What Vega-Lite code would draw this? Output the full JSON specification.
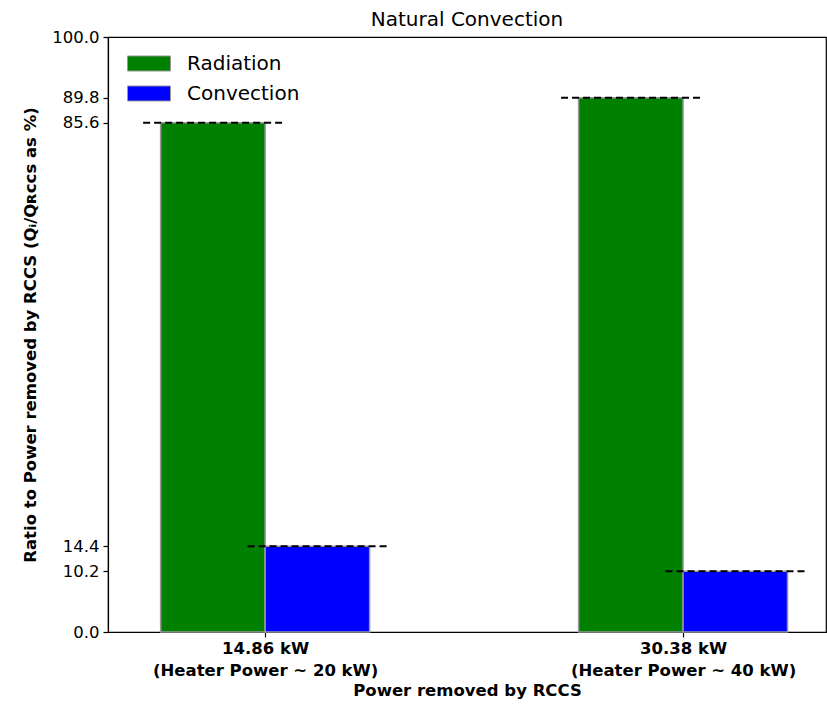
{
  "$schema": "https://vega.github.io/schema/vega-lite/v6.json",
  "width": 718,
  "height": 595,
  "autosize": {"type": "none"},
  "padding": {"left": 108, "top": 37, "right": 1, "bottom": 74},
  "config": {
    "font": "DejaVu Sans",
    "view": {"stroke": "black", "strokeWidth": 1.2},
    "axis": {"grid": false, "domainColor": "black", "tickColor": "black", "labelColor": "black", "titleColor": "black", "domainWidth": 1.2, "tickWidth": 1.2}
  },
  "title": {"text": "Natural Convection", "fontSize": 20, "fontWeight": "normal", "offset": 10, "dy": 11, "font": "DejaVu Sans", "color": "black"},
  "data": {
    "values": [
      {"group": 0, "series": "Radiation", "value": 85.6},
      {"group": 0, "series": "Convection", "value": 14.4},
      {"group": 1, "series": "Radiation", "value": 89.8},
      {"group": 1, "series": "Convection", "value": 10.2}
    ]
  },
  "transform": [
    {"calculate": "datum.group + (datum.series == 'Radiation' ? -0.125 : 0.125)", "as": "center"},
    {"calculate": "datum.center - 0.125", "as": "x0"},
    {"calculate": "datum.center + 0.125", "as": "x1"},
    {"calculate": "datum.center - 0.167", "as": "l0"},
    {"calculate": "datum.center + 0.167", "as": "l1"}
  ],
  "layer": [
    {
      "mark": {"type": "rect", "stroke": "#999999", "strokeWidth": 1.5},
      "encoding": {
        "x": {
          "field": "x0", "type": "quantitative",
          "scale": {"domain": [-0.376, 1.342], "nice": false, "zero": false},
          "axis": {
            "values": [0, 1],
            "labelExpr": "datum.value == 0 ? ['14.86 kW', '(Heater Power ~ 20 kW)'] : ['30.38 kW', '(Heater Power ~ 40 kW)']",
            "labelFontWeight": "bold", "labelFontSize": 16.5, "labelLineHeight": 22, "labelLimit": 400,
            "labelPadding": 3, "tickSize": 5,
            "title": "Power removed by RCCS", "titleFontWeight": "bold", "titleFontSize": 16.5, "titlePadding": 4
          }
        },
        "x2": {"field": "x1"},
        "y": {
          "field": "value", "type": "quantitative",
          "scale": {"domain": [0, 100], "nice": false},
          "axis": {
            "values": [0, 10.2, 14.4, 85.6, 89.8, 100], "format": ".1f",
            "labelFontSize": 16.5, "labelPadding": 4, "tickSize": 5,
            "title": "Ratio to Power removed by RCCS (Qᵢ/Qʀᴄᴄꜱ as %)", "titleFontWeight": "bold", "titleFontSize": 16.5, "titlePadding": 13
          }
        },
        "y2": {"datum": 0},
        "color": {
          "field": "series", "type": "nominal",
          "scale": {"domain": ["Radiation", "Convection"], "range": ["#008000", "#0000ff"]},
          "legend": {
            "orient": "none", "legendX": 19, "legendY": 15, "title": null, "padding": 0,
            "symbolType": "M-1,-0.35H1V0.35H-1Z", "symbolSize": 1849, "symbolStrokeColor": "#999999", "symbolStrokeWidth": 1,
            "labelFontSize": 20, "labelOffset": 16, "labelColor": "black", "rowPadding": 7, "clipHeight": 23
          }
        }
      }
    },
    {
      "mark": {"type": "rule", "color": "black", "strokeDash": [7, 4], "strokeWidth": 2},
      "encoding": {
        "x": {"field": "l0", "type": "quantitative"},
        "x2": {"field": "l1"},
        "y": {"field": "value", "type": "quantitative"}
      }
    }
  ]
}
